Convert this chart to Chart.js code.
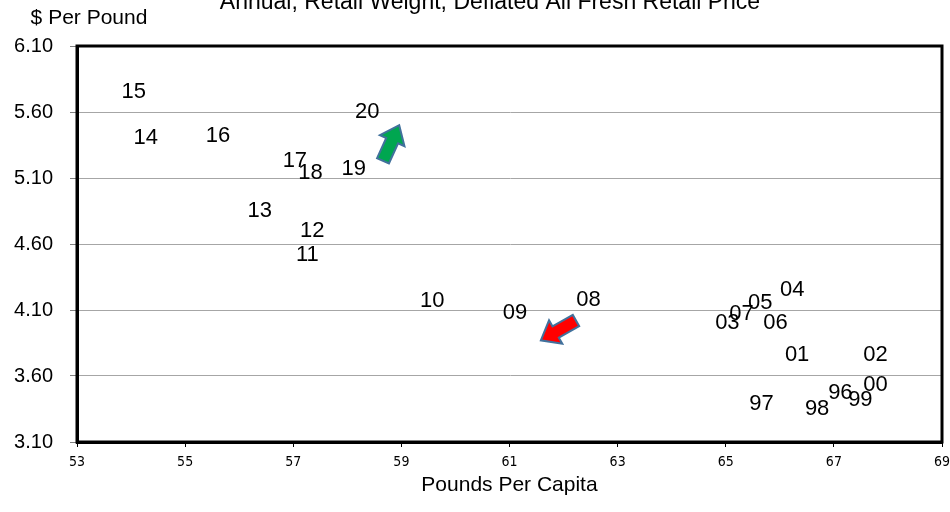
<!DOCTYPE html>
<html>
<head>
<meta charset="utf-8">
<script src="https://cdn.jsdelivr.net/npm/chart.js@4.4.1/dist/chart.umd.min.js"></script>
<style>
  html, body { margin: 0; padding: 0; background: #fff; }
  #wrap { width: 950px; height: 512px; position: relative; }
</style>
</head>
<body>
<div id="wrap"><canvas id="scatter"></canvas></div>
<script>
// データ（年ラベル・一人当たり消費量・価格）
const years  = ["96","97","98","99","00","01","02","03","04","05","06","07","08","09","10",
                "11","12","13","14","15","16","17","18","19","20"];
const pounds = [67.12,65.66,66.69,67.49,67.77,66.32,67.77,65.03,66.23,65.64,65.92,65.29,62.46,61.10,59.57,
                57.26,57.35,56.38,54.27,54.05,55.61,57.03,57.32,58.12,58.37];
const prices = [3.47,3.39,3.35,3.42,3.53,3.76,3.76,4.00,4.25,4.15,4.00,4.07,4.18,4.08,4.17,
                4.52,4.70,4.85,5.40,5.75,5.42,5.23,5.14,5.17,5.60];

// 軸の目盛り
const xTicks = [53, 55, 57, 59, 61, 63, 65, 67, 69];
const yTicks = [3.10, 3.60, 4.10, 4.60, 5.10, 5.60, 6.10];

// 矢印（データ座標：始点→先端）
const arrowFrom  = [[58.66, 5.23], [62.23, 4.02]];
const arrowTo    = [[58.96, 5.50], [61.58, 3.87]];
const arrowFills = ["#00a650", "#ff0000"];

const chartTitle = "Annual, Retail Weight, Deflated All Fresh Retail Price";
const yTitle = "$ Per Pound";
const xTitle = "Pounds Per Capita";

// 年ラベル・矢印・枠線を描くプラグイン
const labelPlugin = {
  id: "yearLabels",
  afterDatasetsDraw(chart) {
    const ctx = chart.ctx;
    const xs = chart.scales.x, ys = chart.scales.y;
    const area = chart.chartArea;

    // 外枠（上・右も太線）
    ctx.save();
    ctx.strokeStyle = "#000";
    ctx.lineWidth = 3;
    ctx.strokeRect(area.left, area.top, area.right - area.left, area.bottom - area.top);
    ctx.restore();

    // 年ラベル
    ctx.save();
    ctx.font = "22px 'Liberation Sans', Arial, sans-serif";
    ctx.fillStyle = "#000";
    ctx.textAlign = "center";
    ctx.textBaseline = "middle";
    years.forEach((yr, i) => {
      ctx.fillText(yr, xs.getPixelForValue(pounds[i]), ys.getPixelForValue(prices[i]));
    });
    ctx.restore();

    // ブロック矢印
    arrowFrom.forEach((from, i) => {
      const x0 = xs.getPixelForValue(from[0]), y0 = ys.getPixelForValue(from[1]);
      const x1 = xs.getPixelForValue(arrowTo[i][0]), y1 = ys.getPixelForValue(arrowTo[i][1]);
      const len = Math.hypot(x1 - x0, y1 - y0);
      const ux = (x1 - x0) / len, uy = (y1 - y0) / len;
      const nx = -uy, ny = ux;
      const headLen = 17, shaftW = 6.5, headW = 13.5;
      const bx = x1 - ux * headLen, by = y1 - uy * headLen;
      ctx.save();
      ctx.beginPath();
      ctx.moveTo(x0 + nx * shaftW, y0 + ny * shaftW);
      ctx.lineTo(bx + nx * shaftW, by + ny * shaftW);
      ctx.lineTo(bx + nx * headW, by + ny * headW);
      ctx.lineTo(x1, y1);
      ctx.lineTo(bx - nx * headW, by - ny * headW);
      ctx.lineTo(bx - nx * shaftW, by - ny * shaftW);
      ctx.lineTo(x0 - nx * shaftW, y0 - ny * shaftW);
      ctx.closePath();
      ctx.fillStyle = arrowFills[i];
      ctx.fill();
      ctx.strokeStyle = "#41719c";
      ctx.lineWidth = 2;
      ctx.stroke();
      ctx.restore();
    });

    // タイトル（上端で切れている）と縦軸タイトル
    ctx.save();
    ctx.fillStyle = "#000";
    ctx.textAlign = "center";
    ctx.textBaseline = "alphabetic";
    ctx.font = "23px 'Liberation Sans', Arial, sans-serif";
    ctx.fillText(chartTitle, 490, 9);
    ctx.font = "21px 'Liberation Sans', Arial, sans-serif";
    ctx.textBaseline = "middle";
    ctx.fillText(yTitle, 89, 18);
    ctx.restore();
  }
};

new Chart(document.getElementById("scatter"), {
  type: "scatter",
  data: {
    datasets: [{
      data: pounds.map((p, i) => ({ x: p, y: prices[i] })),
      pointRadius: 0,
      pointHoverRadius: 0,
      showLine: false
    }]
  },
  options: {
    responsive: true,
    maintainAspectRatio: false,
    animation: false,
    layout: { padding: { top: 46, right: 0, left: 0, bottom: 0 } },
    plugins: {
      legend: { display: false },
      tooltip: { enabled: false },
      title: { display: false }
    },
    scales: {
      x: {
        type: "linear",
        min: xTicks[0],
        max: xTicks[xTicks.length - 1],
        afterBuildTicks: scale => { scale.ticks = xTicks.map(v => ({ value: v })); },
        afterFit: scale => { scale.height = 70; scale.paddingRight = 8; scale.paddingLeft = 0; },
        grid: { drawOnChartArea: false, tickLength: 5, tickColor: "#000", lineWidth: 1 },
        border: { color: "#000", width: 3 },
        ticks: {
          color: "#000",
          padding: 7,
          maxRotation: 0,
          font: { family: "'Liberation Sans Narrow', 'DejaVu Sans Condensed', sans-serif", size: 14 }
        },
        title: {
          display: true,
          text: xTitle,
          color: "#000",
          font: { family: "'Liberation Sans', Arial, sans-serif", size: 21 },
          padding: { top: 0, bottom: 14 }
        }
      },
      y: {
        type: "linear",
        min: yTicks[0],
        max: yTicks[yTicks.length - 1],
        afterBuildTicks: scale => { scale.ticks = yTicks.map(v => ({ value: v })); },
        afterFit: scale => { scale.width = 77; },
        grid: { color: "#a6a6a6", lineWidth: 1, tickLength: 7, tickColor: "#808080" },
        border: { color: "#000", width: 3 },
        ticks: {
          color: "#000",
          padding: 17,
          font: { family: "'Liberation Sans', Arial, sans-serif", size: 20 },
          callback: v => Number(v).toFixed(2)
        }
      }
    }
  },
  plugins: [labelPlugin]
});
</script>
</body>
</html>
